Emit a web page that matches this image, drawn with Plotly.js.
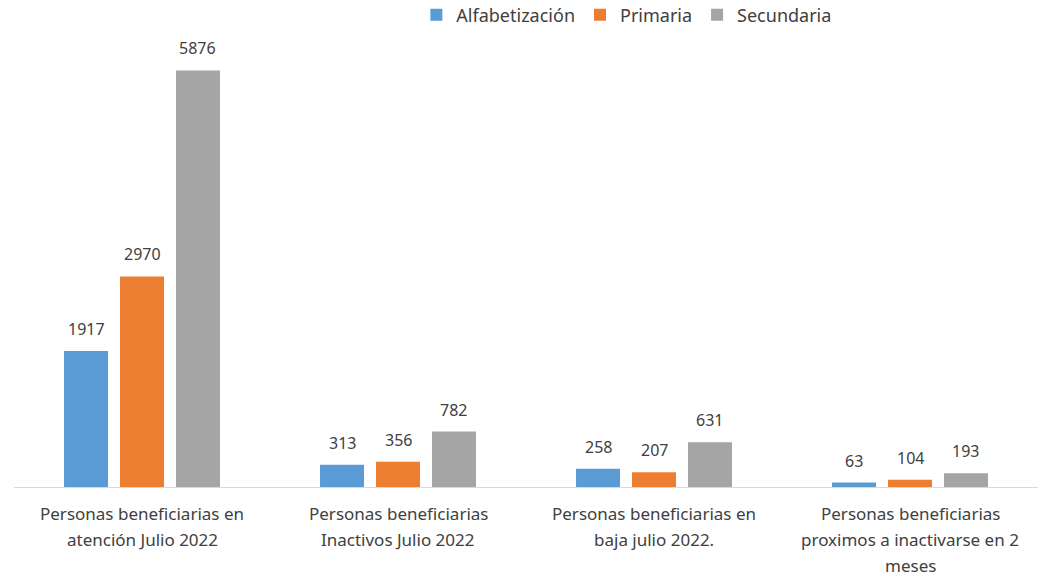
<!DOCTYPE html>
<html><head><meta charset="utf-8">
<script src="https://cdn.plot.ly/plotly-3.0.1.min.js"></script>
<style>html,body{margin:0;padding:0;background:#fff}#chart{width:1041px;height:577px}</style>
</head><body><div id="chart"></div>
<script>
const categories = ["c1", "c2", "c3", "c4"];
const tickLabels = [
  ["Personas beneficiarias en", "atención Julio 2022"],
  ["Personas beneficiarias", "Inactivos Julio 2022"],
  ["Personas beneficiarias en", "baja julio 2022."],
  ["Personas beneficiarias", "proximos a inactivarse en 2", "meses"]
];
const seriesNames = ["Alfabetización", "Primaria", "Secundaria"];
const alfabetizacion = [1917, 313, 258, 63];
const primaria = [2970, 356, 207, 104];
const secundaria = [5876, 782, 631, 193];
const colors = ["#5B9BD5", "#ED7D31", "#A5A5A5"];
const values = [alfabetizacion, primaria, secundaria];

const FONT = "Noto Sans, Open Sans, sans-serif";
const TEXT = "#404040";
const W = 1041, H = 577;
const margin = {l: 14, r: 3, t: 40, b: 90};
const plotW = W - margin.l - margin.r;
const plotH = H - margin.t - margin.b;
const bargap = 0.344;
const slot = plotW / categories.length * (1 - bargap) / values.length;

const traces = values.map((v, i) => ({
  type: "bar",
  name: seriesNames[i],
  x: categories,
  y: v,
  marker: {color: colors[i]},
  hoverinfo: "y+name"
}));

const annotations = [];
values.forEach((v, i) => {
  v.forEach((val, j) => {
    annotations.push({
      x: categories[j], y: val, xref: "x", yref: "y",
      text: String(val), showarrow: false,
      xanchor: "center", yanchor: "middle",
      xshift: (i - (values.length - 1) / 2) * slot,
      yshift: 22,
      font: {family: FONT, size: 16, color: TEXT}
    });
  });
});
tickLabels.forEach((lines, j) => {
  lines.forEach((line, k) => {
    annotations.push({
      x: categories[j], y: 0, xref: "x", yref: "y",
      text: line, showarrow: false,
      xanchor: "center", yanchor: "middle",
      yshift: -(26 + 26 * k),
      font: {family: FONT, size: 17, color: TEXT}
    });
  });
});

const layout = {
  width: W, height: H,
  margin: Object.assign({autoexpand: false}, margin),
  paper_bgcolor: "#fff", plot_bgcolor: "#fff",
  barmode: "group",
  bargap: bargap,
  bargroupgap: 0.214,
  showlegend: true,
  legend: {orientation: "h", x: 0.598, xanchor: "center", y: 1 + 25 / plotH, yanchor: "middle",
           font: {family: FONT, size: 18, color: TEXT}, traceorder: "normal"},
  xaxis: {
    showline: true, linecolor: "#D9D9D9", linewidth: 1,
    ticks: "", showgrid: false, zeroline: false, showticklabels: false
  },
  yaxis: {visible: false, range: [0, 6305], showgrid: false, zeroline: false},
  annotations: annotations,
  font: {family: FONT, color: TEXT}
};
Plotly.newPlot("chart", traces, layout, {displayModeBar: false, responsive: false});
</script></body></html>
